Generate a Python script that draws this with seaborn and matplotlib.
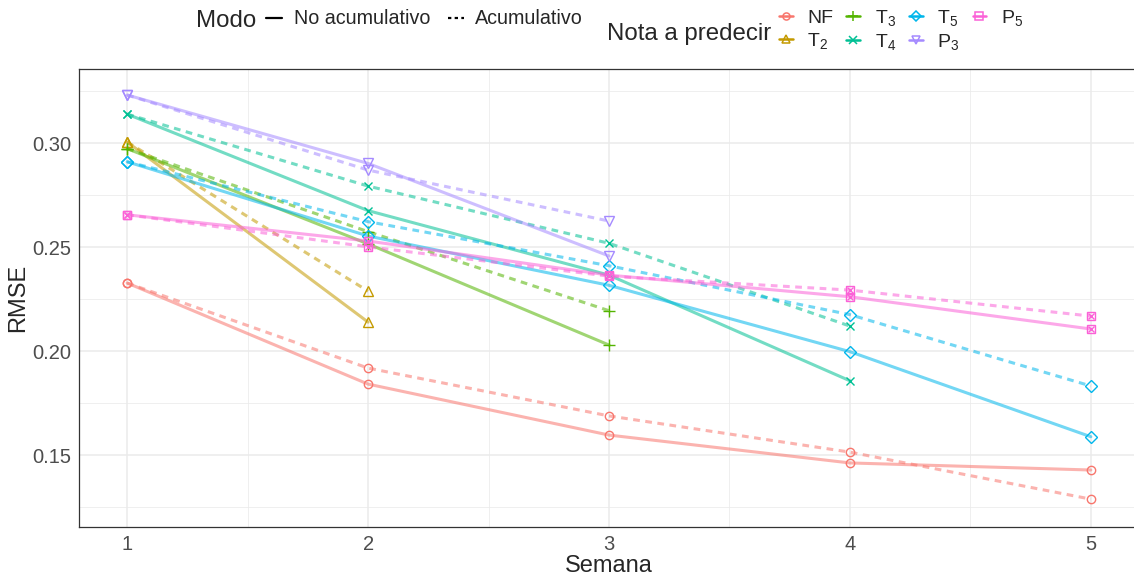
import numpy as np
import pandas as pd
import matplotlib
matplotlib.use("Agg")
import matplotlib.pyplot as plt
from matplotlib.lines import Line2D
import seaborn as sns

# RMSE by week of prediction, for each grade to predict and each mode
notas = ["NF", "T2", "T3", "T4", "T5", "P3", "P5"]
nota_labels = ["NF", r"$\mathregular{T_2}$", r"$\mathregular{T_3}$", r"$\mathregular{T_4}$",
               r"$\mathregular{T_5}$", r"$\mathregular{P_3}$", r"$\mathregular{P_5}$"]
modos = ["No acumulativo", "Acumulativo"]

rmse_no_acum = {
    "NF": [0.2327, 0.1841, 0.1596, 0.1462, 0.1428],
    "T2": [0.3005, 0.2139],
    "T3": [0.2973, 0.2515, 0.2029],
    "T4": [0.3139, 0.2675, 0.2365, 0.1857],
    "T5": [0.2910, 0.2553, 0.2316, 0.1997, 0.1588],
    "P3": [0.3231, 0.2902, 0.2457],
    "P5": [0.2655, 0.2529, 0.2365, 0.2261, 0.2106],
}
rmse_acum = {
    "NF": [0.2327, 0.1918, 0.1688, 0.1514, 0.1288],
    "T2": [0.3005, 0.2288],
    "T3": [0.2973, 0.2574, 0.2194],
    "T4": [0.3139, 0.2793, 0.2518, 0.2120],
    "T5": [0.2910, 0.2622, 0.2410, 0.2175, 0.1832],
    "P3": [0.3231, 0.2870, 0.2625],
    "P5": [0.2655, 0.2501, 0.2360, 0.2293, 0.2168],
}

rows = []
for modo, tabla in zip(modos, [rmse_no_acum, rmse_acum]):
    for nota in notas:
        for semana, v in enumerate(tabla[nota], start=1):
            rows.append({"Semana": semana, "RMSE": v, "Nota": nota, "Modo": modo})
df = pd.DataFrame(rows)

colores = ["#F8766D", "#C49A00", "#53B400", "#00C094", "#00B6EB", "#A58AFF", "#FB61D7"]
paleta = dict(zip(notas, colores))
marcadores = {"NF": "o", "T2": "^", "T3": "+", "T4": "x", "T5": "D", "P3": "v", "P5": "s"}
tamanos = {"NF": 6, "T2": 7, "T3": 8, "T4": 6.3, "T5": 6.3, "P3": 7, "P5": 6}

sns.set_style("white")
plt.rcParams["font.family"] = ["Liberation Sans", "DejaVu Sans"]
plt.rcParams["mathtext.fontset"] = "custom"
plt.rcParams["mathtext.rm"] = "Liberation Sans"

fig = plt.figure(figsize=(11.34, 5.75), dpi=100)
W, H = 1134, 575
ax = fig.add_axes([79 / W, 1 - 527 / H, (1139 - 79) / W, (527 - 69) / H])

sns.lineplot(data=df, x="Semana", y="RMSE", hue="Nota", style="Modo",
             hue_order=notas, style_order=modos, palette=paleta,
             dashes={"No acumulativo": "", "Acumulativo": (2.2, 1.8)},
             linewidth=2.2, alpha=0.55, legend=False, ax=ax)

for nota in notas:
    sub = df[df["Nota"] == nota]
    m = marcadores[nota]
    c = paleta[nota]
    if m in ("+", "x"):
        ax.plot(sub["Semana"], sub["RMSE"], linestyle="none", marker=m, color=c,
                markersize=tamanos[nota], markeredgewidth=1.0, zorder=5)
    else:
        ax.plot(sub["Semana"], sub["RMSE"], linestyle="none", marker=m, markerfacecolor="none",
                markeredgecolor=c, markersize=tamanos[nota], markeredgewidth=1.0, zorder=5)
    if nota == "P5":
        ax.plot(sub["Semana"], sub["RMSE"], linestyle="none", marker="x", color=c,
                markersize=4.2, markeredgewidth=1.0, zorder=6)

ax.set_xlim(0.8, 5.2)
ax.set_ylim(0.1154, 0.3356)
ax.set_xticks([1, 2, 3, 4, 5])
ax.set_xticks([1.5, 2.5, 3.5, 4.5], minor=True)
ax.set_yticks([0.15, 0.20, 0.25, 0.30])
ax.set_yticks([0.125, 0.175, 0.225, 0.275, 0.325], minor=True)
ax.set_yticklabels(["0.15", "0.20", "0.25", "0.30"])
ax.grid(which="major", color="#EBEBEB", linewidth=1.1)
ax.grid(which="minor", color="#EBEBEB", linewidth=0.55)
ax.set_axisbelow(True)
for s in ax.spines.values():
    s.set_color("#333333")
    s.set_linewidth(0.9)
ax.tick_params(which="major", length=3.5, width=0.8, color="#333333",
               labelsize=14.5, labelcolor="#4D4D4D", pad=2)
ax.tick_params(which="minor", length=0)
ax.set_xlabel("Semana", fontsize=17, labelpad=1)
ax.set_ylabel("RMSE", fontsize=17, labelpad=2)

# Legend for the mode (line type)
fig.text(196 / W, 1 - 21 / H, "Modo", fontsize=17.3, va="center", ha="left")
h_modo = [Line2D([], [], color="black", linewidth=1.6, linestyle="-"),
          Line2D([], [], color="black", linewidth=1.6, linestyle=(0, (1.5, 1.5)))]
leg1 = fig.legend(h_modo, modos, loc="center left", bbox_to_anchor=(266 / W, 1 - 19 / H),
                  ncol=2, frameon=False, fontsize=14.2, handlelength=0.8,
                  handletextpad=0.6, columnspacing=0.9, borderpad=0, borderaxespad=0)

# Legend for the grade to predict (colour and marker)
fig.text(607 / W, 1 - 34 / H, "Nota a predecir", fontsize=17.3, va="center", ha="left")
h_nota = []
for nota in notas:
    m = marcadores[nota]
    c = paleta[nota]
    if m in ("+", "x"):
        h = Line2D([], [], color=c, alpha=1, linewidth=1.8, marker=m,
                   markersize=tamanos[nota] * 0.85, markeredgewidth=1.1)
    else:
        h = Line2D([], [], color=c, linewidth=1.8, marker=m, markerfacecolor="none",
                   markeredgecolor=c, markersize=tamanos[nota] * 0.85, markeredgewidth=1.1)
    h_nota.append(h)
leg2 = fig.legend(h_nota, nota_labels, loc="upper left", bbox_to_anchor=(779 / W, 1 - 8 / H),
                  ncol=4, frameon=False, fontsize=14, handlelength=0.7,
                  handletextpad=0.75, columnspacing=0.68, labelspacing=0.2,
                  borderpad=0, borderaxespad=0)

fig.savefig("out.png", dpi=100)
